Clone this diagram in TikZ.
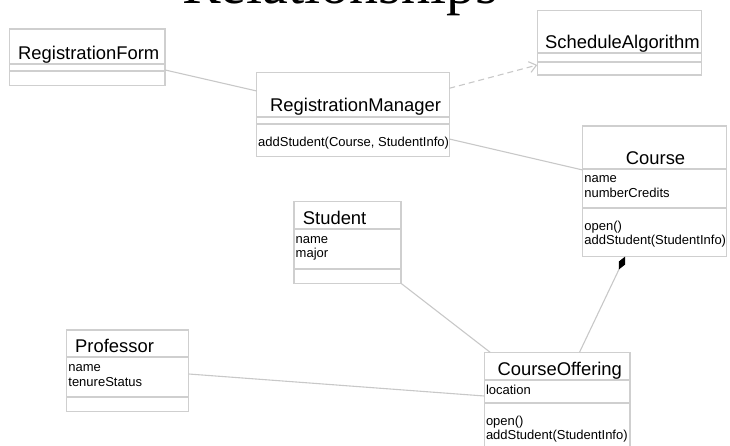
\documentclass[tikz,border=0pt]{standalone}
\usepackage{fontspec}
\setmainfont{Liberation Sans}
\newfontfamily\titlefont{Liberation Serif}
\usetikzlibrary{arrows.meta}

\definecolor{boxline}{HTML}{CFCFCF}
\definecolor{wire}{HTML}{C8C8C8}

\tikzset{
  classbox/.style={draw=boxline, line width=1.3pt, inner sep=0pt, outer sep=0pt, rectangle},
  sepline/.style={draw=boxline, line width=1.8pt},
  nametext/.style={font=\fontsize{18.4}{20}\selectfont, inner sep=0pt, anchor=base west},
  membertext/.style={font=\fontsize{13}{14.5}\selectfont, inner sep=0pt, anchor=base west},
  assoc/.style={draw=wire, line width=1.1pt},
  depend/.style={draw=wire, line width=1.1pt, dash pattern=on 6pt off 4pt,
    -{Straight Barb[length=7pt,width=11pt]}},
  compose/.style={draw=wire, line width=1.1pt,
    {Diamond[length=14pt,width=7pt,color=black]}-},
}

% class box: name, x1, y1, x2, y2, first separator, second separator
\newcommand{\umlbox}[7]{%
  \node[classbox, minimum width={(#4-#2)*1pt}, minimum height={(#5-#3)*1pt}]
    (#1) at ({(#2+#4)/2},{(#3+#5)/2}) {};
  \draw[sepline] (#2,#6) -- (#4,#6);
  \draw[sepline] (#2,#7) -- (#4,#7);
}

\begin{document}
\begin{tikzpicture}[x=1pt, y=-1pt]
  \useasboundingbox (0,0) rectangle (730,446);

  % title, mostly above the page edge
  \node[font=\titlefont\fontsize{58}{60}\selectfont, inner sep=0pt, anchor=base]
    (title) at (340,4) {Relationships};

  % classes
  \umlbox{rf}{9.5}{29}{165}{85.3}{64}{71.3}
  \umlbox{sa}{537.3}{10.7}{701.3}{75}{53.3}{61.7}
  \umlbox{rm}{256.7}{72.7}{449.3}{156.7}{116.7}{124}
  \umlbox{co}{582.7}{126}{726.7}{256.7}{169.3}{208.3}
  \umlbox{st}{294}{201.7}{401}{283.3}{229}{269.3}
  \umlbox{pr}{66.7}{330}{188.7}{411.7}{356.7}{396.7}
  \umlbox{of}{484.3}{352.3}{630}{447}{380}{402.7}

  % class names
  \node[nametext] (rfname) at (18,59.3) {RegistrationForm};
  \node[nametext] (saname) at (545,49) {ScheduleAlgorithm};
  \node[nametext] (rmname) at (270,111.7) {RegistrationManager};
  \node[nametext] (coname) at (625.7,164.3) {Course};
  \node[nametext] (stname) at (302.7,224.3) {Student};
  \node[nametext] (prname) at (75,352.3) {Professor};
  \node[nametext] (ofname) at (497.3,375) {CourseOffering};

  % attributes and operations
  \node[membertext] (rmop1) at (258,147) {addStudent(Course, StudentInfo)};

  \node[membertext] (coat1) at (584.2,182.7) {name};
  \node[membertext] (coat2) at (584.2,197.3) {numberCredits};
  \node[membertext] (coop1) at (584.2,230) {open()};
  \node[membertext] (coop2) at (584.2,244.8) {addStudent(StudentInfo)};

  \node[membertext] (stat1) at (295.5,243.3) {name};
  \node[membertext] (stat2) at (295.5,257) {major};

  \node[membertext] (prat1) at (68.2,371.7) {name};
  \node[membertext] (prat2) at (68.2,386.5) {tenureStatus};

  \node[membertext] (ofat1) at (485.8,394) {location};
  \node[membertext] (ofop1) at (485.8,425) {open()};
  \node[membertext] (ofop2) at (485.8,439) {addStudent(StudentInfo)};

  % relationships
  \draw[assoc] ([yshift=-12.8pt]rf.east) -- ([yshift=23.7pt]rm.west);
  \draw[depend] ([yshift=26.4pt]rm.east) -- ([yshift=-22.15pt]sa.west);
  \draw[assoc] ([yshift=-24.3pt]rm.east) -- ([yshift=21.35pt]co.west);
  \draw[assoc] (st.south east) -- ([xshift=-67pt]of.north);
  \draw[assoc] ([yshift=-3.15pt]pr.east) -- ([yshift=3.65pt]of.west);
  \draw[compose] ([xshift=-29.7pt]co.south) -- ([xshift=22.35pt]of.north);
\end{tikzpicture}
\end{document}
